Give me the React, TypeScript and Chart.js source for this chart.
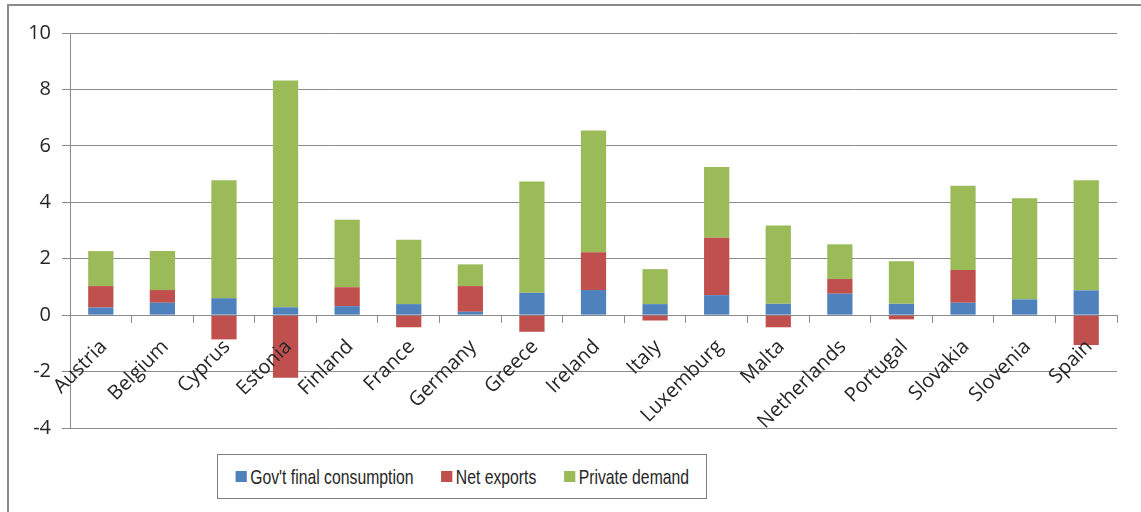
import React, { useEffect, useRef } from "react";
import { Chart, registerables } from "chart.js";

Chart.register(...registerables);

const categories = [
  "Austria", "Belgium", "Cyprus", "Estonia", "Finland", "France", "Germany", "Greece",
  "Ireland", "Italy", "Luxemburg", "Malta", "Netherlands", "Portugal", "Slovakia", "Slovenia", "Spain",
];
const govConsumption = [0.27, 0.44, 0.6, 0.28, 0.32, 0.39, 0.12, 0.79, 0.89, 0.39, 0.71, 0.4, 0.76, 0.4, 0.44, 0.56, 0.88];
const netExports = [0.76, 0.45, -0.86, -2.22, 0.67, -0.43, 0.91, -0.59, 1.34, -0.19, 2.03, -0.43, 0.52, -0.15, 1.16, 0, -1.06];
const privateDemand = [1.24, 1.38, 4.18, 8.04, 2.39, 2.28, 0.77, 3.95, 4.31, 1.24, 2.51, 2.78, 1.23, 1.51, 2.99, 3.58, 3.9];
const seriesNames = ["Gov't final consumption", "Net exports", "Private demand"];
const seriesColors = ["#4F81BD", "#C0504D", "#9BBB59"];
const yMin = -4;
const yMax = 10;
const yStep = 2;

export default function App() {
  const ref = useRef<HTMLCanvasElement | null>(null);

  useEffect(() => {
    if (!ref.current) return;
    const values = [govConsumption, netExports, privateDemand];
    const chart = new Chart(ref.current, {
      type: "bar",
      data: {
        labels: categories,
        datasets: values.map((v, i) => ({
          label: seriesNames[i],
          data: v,
          backgroundColor: seriesColors[i],
          borderWidth: 0,
          categoryPercentage: 0.41,
          barPercentage: 1,
        })),
      },
      options: {
        animation: false,
        responsive: false,
        devicePixelRatio: 1,
        layout: { padding: { left: 0, top: 33, right: 24, bottom: 84 } },
        plugins: { legend: { display: false }, tooltip: { enabled: false } },
        scales: {
          x: {
            stacked: true,
            position: { y: 0 } as any,
            grid: {
              offset: true,
              drawOnChartArea: false,
              drawTicks: true,
              tickLength: 7,
              color: "#8c8c8c",
            },
            border: { display: true, color: "#8c8c8c" },
            ticks: {
              z: 1,
              autoSkip: false,
              maxRotation: 45,
              minRotation: 45,
              padding: 13,
              labelOffset: 3,
              color: "#262626",
              font: { family: "'Open Sans', sans-serif", size: 20 },
            },
            afterFit: (s: any) => {
              s.height = 0;
              s.paddingLeft = 0;
              s.paddingRight = 0;
            },
          },
          y: {
            stacked: true,
            min: yMin,
            max: yMax,
            ticks: {
              stepSize: yStep,
              padding: 11,
              color: "#262626",
              font: { family: "'Open Sans', sans-serif", size: 20 },
            },
            grid: { color: "#8c8c8c", tickLength: 8, drawTicks: true },
            border: { display: true, color: "#8c8c8c" },
            afterFit: (s: any) => {
              s.width = 70;
            },
          },
        },
      },
    });
    return () => chart.destroy();
  }, []);

  return (
    <div style={{ position: "fixed", left: 0, top: 0, width: 1141, height: 512, background: "#fff", overflow: "hidden" }}>
      <div
        style={{
          position: "absolute",
          left: 7,
          top: 4,
          width: 1200,
          height: 600,
          borderTop: "2.5px solid #8a8a8a",
          borderLeft: "2.5px solid #8a8a8a",
        }}
      />
      <canvas ref={ref} width={1141} height={512} style={{ position: "absolute", left: 0, top: 0 }} />
      <div
        style={{
          position: "absolute",
          left: 217,
          top: 454,
          width: 490,
          height: 45,
          boxSizing: "border-box",
          border: "1px solid #7f7f7f",
          background: "#fff",
          display: "flex",
          alignItems: "center",
          justifyContent: "center",
          overflow: "hidden",
        }}
      >
        <div
          style={{
            display: "flex",
            alignItems: "center",
            gap: 37,
            whiteSpace: "nowrap",
            transform: "scaleX(0.75)",
            transformOrigin: "center",
            fontFamily: "'Liberation Sans', Arial, sans-serif",
            fontSize: 21,
            color: "#262626",
            flexShrink: 0,
          }}
        >
          {seriesNames.map((n, i) => (
            <div key={n} style={{ display: "flex", alignItems: "center", gap: 5 }}>
              <span style={{ display: "inline-block", width: 14.5, height: 11, background: seriesColors[i] }} />
              <span>{n}</span>
            </div>
          ))}
        </div>
      </div>
    </div>
  );
}
